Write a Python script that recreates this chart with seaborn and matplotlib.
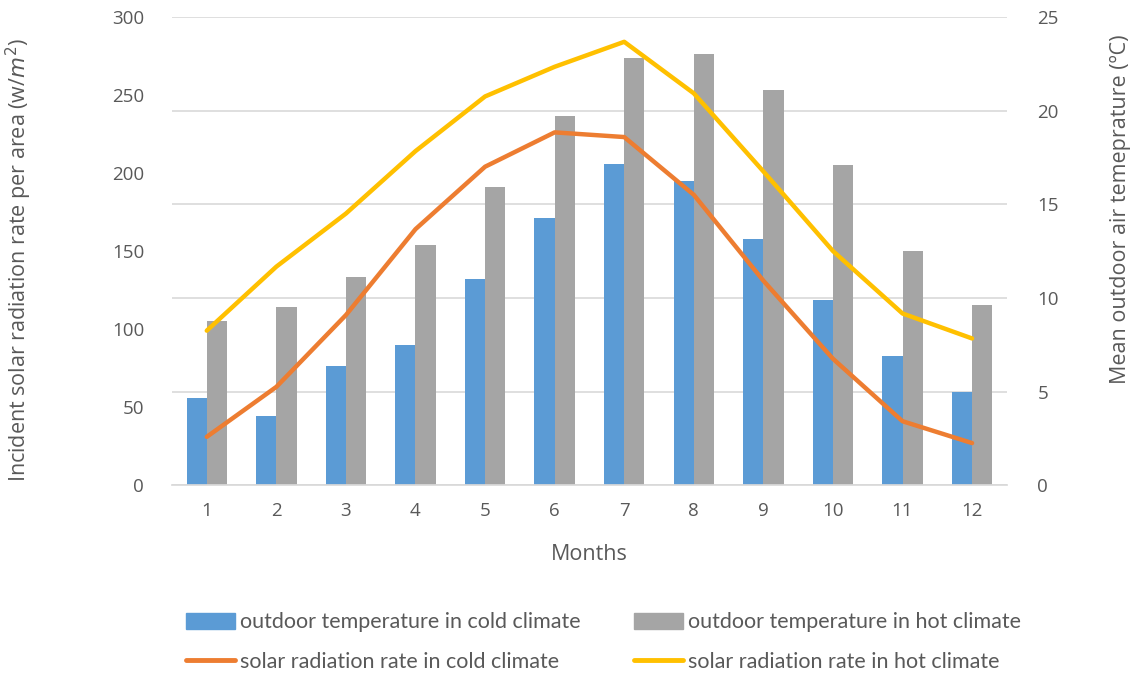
import numpy as np
import pandas as pd
import matplotlib
matplotlib.use("Agg")
import matplotlib.pyplot as plt
import seaborn as sns
from matplotlib.patches import Patch
from matplotlib.lines import Line2D

months = ["1", "2", "3", "4", "5", "6", "7", "8", "9", "10", "11", "12"]
temp_cold = [4.65, 3.67, 6.35, 7.5, 11.0, 14.25, 17.15, 16.25, 13.15, 9.9, 6.9, 5.0]
temp_hot = [8.75, 9.5, 11.1, 12.8, 15.9, 19.7, 22.8, 23.0, 21.1, 17.1, 12.5, 9.6]
rad_cold = [31, 63, 109, 164, 204, 226, 223, 186, 131, 81, 41, 27]
rad_hot = [99, 140, 174, 214, 249, 268, 284, 251, 201, 150, 110, 94]

lab_tc = "outdoor temperature in cold climate"
lab_th = "outdoor temperature in hot climate"
lab_rc = "solar radiation rate in cold climate"
lab_rh = "solar radiation rate in hot climate"

c_blue = "#5b9bd5"
c_gray = "#a5a5a5"
c_orange = "#ed7d31"
c_yellow = "#ffc000"
txt = "#595959"

sns.set_theme(style="white")
plt.rcParams["font.family"] = ["Open Sans", "DejaVu Sans"]

fig = plt.figure(figsize=(11.39, 6.73), dpi=100)
ax = fig.add_axes([0.151, 0.279, 0.733, 0.696])
ax2 = ax.twinx()

# bars (temperature) on the right axis, drawn beneath the lines
df_bar = pd.DataFrame({
    "month": months * 2,
    "temp": temp_cold + temp_hot,
    "series": [lab_tc] * 12 + [lab_th] * 12,
})
sns.barplot(data=df_bar, x="month", y="temp", hue="series", ax=ax2,
            palette=[c_blue, c_gray], width=0.58, gap=0, saturation=1,
            linewidth=0, legend=False, zorder=2)
ax2.set_ylim(0, 25)
ax2.set_yticks(np.arange(0, 26, 5))
ax2.grid(axis="y", color="#d9d9d9", linewidth=1.2, zorder=0)
ax2.set_axisbelow(True)
ax2.set_xlabel("")

# lines (radiation) on the left axis, on top
x = np.arange(len(months))
df_line = pd.DataFrame({
    "x": np.concatenate([x, x]),
    "rad": rad_cold + rad_hot,
    "series": [lab_rc] * 12 + [lab_rh] * 12,
})
sns.lineplot(data=df_line, x="x", y="rad", hue="series", ax=ax,
             palette=[c_orange, c_yellow], linewidth=3.2, legend=False)
ax.set_ylim(0, 300)
ax.set_yticks(np.arange(0, 301, 50))
ax.set_xlim(-0.5, 11.5)
ax.set_xticks(x)
ax.set_xticklabels(months)
ax.set_zorder(ax2.get_zorder() + 1)
ax.patch.set_visible(False)

for a in (ax, ax2):
    for s in a.spines.values():
        s.set_visible(False)
    a.tick_params(axis="both", length=0, labelsize=13.5, labelcolor=txt)
ax.tick_params(axis="y", pad=20)
ax2.tick_params(axis="y", pad=22)
ax.tick_params(axis="x", pad=12)
ax2.spines["bottom"].set_visible(True)
ax2.spines["bottom"].set_color("#d9d9d9")

ax.set_xlabel("Months", fontsize=15.5, color=txt, labelpad=17)
ax.set_ylabel(r"Incident solar radiation rate per area (w/$m^2$)", fontsize=15.5,
              color=txt)
ax2.set_ylabel("Mean outdoor air temeprature (ºC)", fontsize=15.5, color=txt)
ax.yaxis.set_label_coords(-0.165, 0.48)
ax2.yaxis.set_label_coords(1.123, 0.59)

handles = [
    Patch(color=c_blue, label=lab_tc),
    Line2D([], [], color=c_orange, linewidth=3.5, label=lab_rc),
    Patch(color=c_gray, label=lab_th),
    Line2D([], [], color=c_yellow, linewidth=3.5, label=lab_rh),
]
leg = fig.legend(handles=handles, loc="lower center", bbox_to_anchor=(0.53, -0.027),
                 ncol=2, frameon=False, handlelength=2.25,
                 handleheight=0.75, handletextpad=0.25, columnspacing=2.5,
                 labelspacing=0.9, prop={"family": ["Lato", "DejaVu Sans"], "size": 15.5})
for t in leg.get_texts():
    t.set_color(txt)

fig.savefig("out.png", dpi=100)
